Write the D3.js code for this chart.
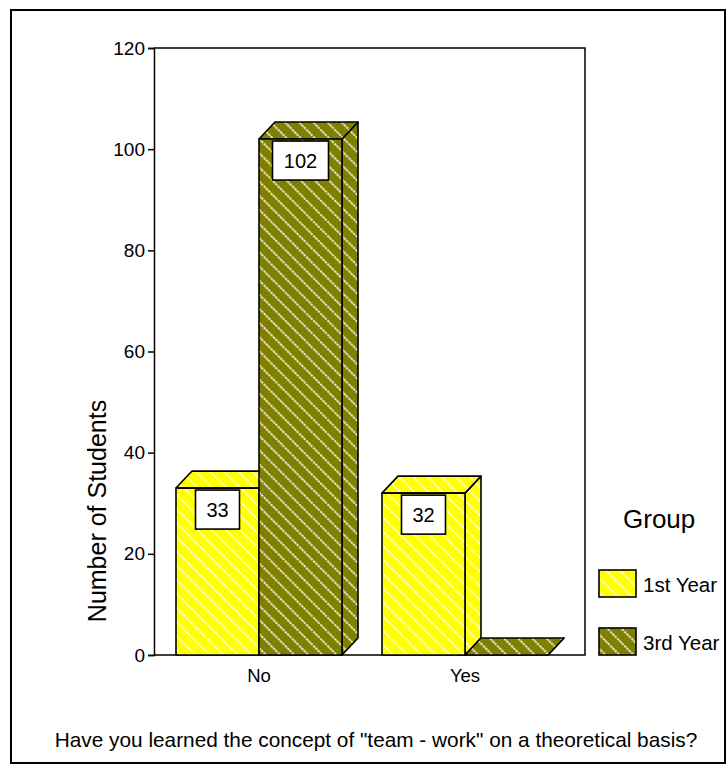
<!DOCTYPE html>
<html>
<head>
<meta charset="utf-8">
<script src="https://cdn.jsdelivr.net/npm/d3@7"></script>
<style>
  html, body { margin: 0; padding: 0; background: #fff; }
  svg text { font-family: Arial, "Liberation Sans", sans-serif; fill: #000; }
</style>
</head>
<body>
<svg id="chart" width="727" height="766"></svg>
<script>
// Answers to the question, grouped by study year
const categories = ["No", "Yes"];
const seriesNames = ["1st Year", "3rd Year"];
const firstYear = [33, 32];
const thirdYear = [102, 0];
const yTicks = [0, 20, 40, 60, 80, 100, 120];
const seriesValues = [firstYear, thirdYear];
const seriesColors = ["#ffff00", "#808000"];

const svg = d3.select("#chart");
const W = 727, H = 766;
const FONT = "Arial, 'Liberation Sans', sans-serif";

// outer frame
svg.append("rect")
  .attr("x", 11).attr("y", 10)
  .attr("width", W - 13).attr("height", H - 13)
  .attr("fill", "none").attr("stroke", "#000").attr("stroke-width", 2);

// hatch patterns: white diagonal lines over each series colour
const defs = svg.append("defs");
seriesColors.forEach((c, i) => {
  const p = defs.append("pattern")
    .attr("id", "hatch" + i)
    .attr("patternUnits", "userSpaceOnUse")
    .attr("width", 10).attr("height", 10)
    .attr("patternTransform", "rotate(-45)");
  p.append("rect").attr("width", 10).attr("height", 10).attr("fill", c);
  p.append("line")
    .attr("x1", 5).attr("y1", -2).attr("x2", 5).attr("y2", 12)
    .attr("stroke", "#fff").attr("stroke-width", 1.6)
    .attr("stroke-dasharray", "2.4,0.9");
});

const plot = { left: 154, right: 585, top: 48, bottom: 655 };
const depth = { dx: 16, dy: 17 };

const y = d3.scaleLinear().domain([0, 120]).range([plot.bottom, plot.top]);
const x0 = d3.scaleBand().domain(categories)
  .range([156, 568]).paddingInner(40 / 206).paddingOuter(20 / 206);
const x1 = d3.scaleBand().domain(seriesNames).range([0, x0.bandwidth()]);

// plot frame (top, right and bottom edges)
svg.append("path")
  .attr("d", `M${plot.left},${plot.top}H${plot.right}V${plot.bottom}H${plot.left}`)
  .attr("fill", "none").attr("stroke", "#000").attr("stroke-width", 1.5);

// y axis
const yAxis = svg.append("g")
  .attr("transform", `translate(${plot.left},0)`)
  .call(d3.axisLeft(y).tickValues(yTicks).tickSize(6).tickPadding(3).tickFormat(d3.format("d")));
yAxis.select(".domain").attr("stroke-width", 1.5);
yAxis.selectAll(".tick line").attr("stroke-width", 1.5);
yAxis.selectAll("text").attr("font-size", 19).style("font-family", FONT);

// x axis
const xAxis = svg.append("g")
  .attr("transform", `translate(0,${plot.bottom})`)
  .call(d3.axisBottom(x0).tickSize(0).tickPadding(14));
xAxis.select(".domain").remove();
xAxis.selectAll("text").attr("font-size", 18.5).style("font-family", FONT);

// 3-D bars
const bars = svg.append("g");
categories.forEach((cat, ci) => {
  seriesNames.forEach((s, si) => {
    const v = seriesValues[si][ci];
    const xl = x0(cat) + x1(s);
    const xr = xl + x1.bandwidth();
    const yt = y(v), yb = y(0);
    const fill = `url(#hatch${si})`;
    const g = bars.append("g")
      .attr("stroke", "#000").attr("stroke-width", 1.6).attr("stroke-linejoin", "round");
    // side face
    g.append("path").attr("fill", fill)
      .attr("d", `M${xr},${yb}L${xr + depth.dx},${yb - depth.dy}L${xr + depth.dx},${yt - depth.dy}L${xr},${yt}Z`);
    // top face
    g.append("path").attr("fill", fill)
      .attr("d", `M${xl},${yt}L${xl + depth.dx},${yt - depth.dy}L${xr + depth.dx},${yt - depth.dy}L${xr},${yt}Z`);
    // front face
    g.append("rect").attr("fill", fill)
      .attr("x", xl).attr("y", yt).attr("width", xr - xl).attr("height", yb - yt);
  });
});

// value labels in white boxes
categories.forEach((cat, ci) => {
  seriesNames.forEach((s, si) => {
    const v = seriesValues[si][ci];
    if (v <= 0) return;
    const cx = x0(cat) + x1(s) + x1.bandwidth() / 2;
    const txt = String(v);
    const bw = txt.length > 2 ? 56 : 44;
    const g = svg.append("g");
    g.append("rect")
      .attr("x", cx - bw / 2).attr("y", y(v) + 2)
      .attr("width", bw).attr("height", 39)
      .attr("fill", "#fff").attr("stroke", "#000").attr("stroke-width", 1.6);
    g.append("text")
      .attr("x", cx).attr("y", y(v) + 29)
      .attr("text-anchor", "middle").attr("font-size", 20)
      .text(txt);
  });
});

// y axis title
svg.append("text")
  .attr("transform", "translate(106,511) rotate(-90)")
  .attr("text-anchor", "middle").attr("font-size", 25)
  .text("Number of Students");

// x axis title
svg.append("text")
  .attr("x", 376).attr("y", 747)
  .attr("text-anchor", "middle").attr("font-size", 20.8)
  .text('Have you learned the concept of "team - work" on a theoretical basis?');

// legend
const legend = svg.append("g");
legend.append("text")
  .attr("x", 623).attr("y", 528).attr("font-size", 26).text("Group");
seriesNames.forEach((s, si) => {
  const ly = 570 + si * 58;
  legend.append("rect")
    .attr("x", 599).attr("y", ly).attr("width", 37).attr("height", 27)
    .attr("fill", `url(#hatch${si})`).attr("stroke", "#000").attr("stroke-width", 1.6);
  legend.append("text")
    .attr("x", 643).attr("y", ly + 22).attr("font-size", 20.5).text(s);
});
</script>
</body>
</html>
